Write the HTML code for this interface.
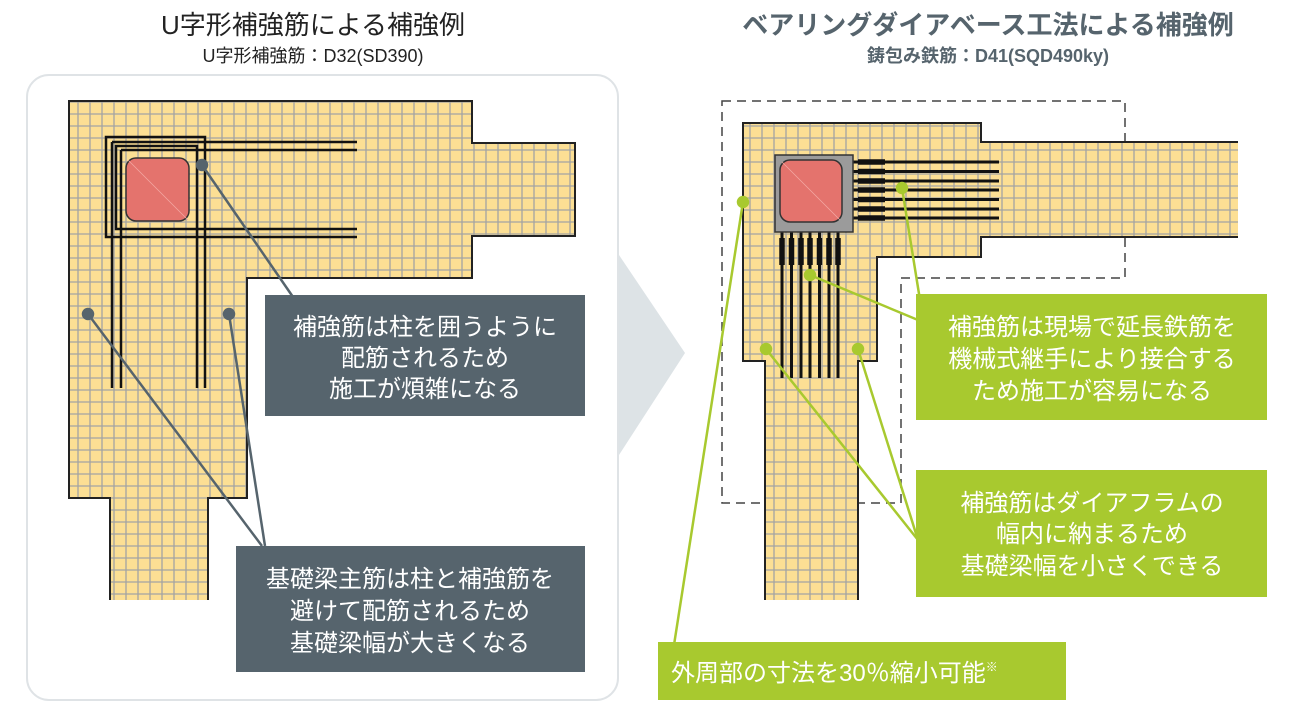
<!DOCTYPE html>
<html><head><meta charset="utf-8"><style>
html,body{margin:0;padding:0;background:#fff;width:1292px;height:712px;overflow:hidden}
svg{display:block}
text{font-family:"Liberation Sans","Noto Sans CJK JP",sans-serif}
</style></head><body>
<svg width="1292" height="712" viewBox="0 0 1292 712" xmlns="http://www.w3.org/2000/svg">
<defs>
<pattern id="g" width="12" height="12" patternUnits="userSpaceOnUse">
<rect width="12" height="12" fill="#fcdf94"/>
<path d="M6 0V12M0 6H12" stroke="#a3a3a3" stroke-width="1.3"/>
</pattern>
</defs>

<!-- titles -->
<text x="313" y="34" font-size="26" text-anchor="middle" fill="#222">U字形補強筋による補強例</text>
<text x="313" y="62" font-size="18" text-anchor="middle" fill="#222">U字形補強筋：D32(SD390)</text>
<text x="988" y="34" font-size="26" font-weight="bold" text-anchor="middle" fill="#56646d">ベアリングダイアベース工法による補強例</text>
<text x="988" y="62" font-size="18" font-weight="bold" text-anchor="middle" fill="#56646d">鋳包み鉄筋：D41(SQD490ky)</text>

<!-- left panel -->
<rect x="27" y="75" width="591" height="625" rx="22" fill="#fff" stroke="#dfe3e6" stroke-width="2"/>
<polygon points="619,255 685,353 619,455" fill="#dde3e6"/>

<!-- left shape -->
<path d="M69 101H472V143H575V236H472V278H247V498H208V607H110V498H69Z" fill="url(#g)" stroke="#222" stroke-width="2"/>
<rect x="109" y="600" width="100" height="10" fill="#fff"/>
<g fill="none" stroke="#111" stroke-width="2.5">
<rect x="106" y="137" width="99" height="100"/>
<rect x="116" y="146" width="81" height="83"/>
<path d="M112 142V388M121 150V388M197 229V388M205 237V388"/>
<path d="M112 142H357M121 150H357M197 229H357M205 237H357"/>
</g>
<rect x="126" y="158" width="63" height="63" rx="10" fill="#e4736d" stroke="#333" stroke-width="1.5"/>
<line x1="128" y1="160" x2="188" y2="220" stroke="#f3aaa5" stroke-width="0.7"/>
<g stroke="#56646d" stroke-width="2.5" fill="#56646d">
<line x1="202" y1="165" x2="293" y2="297"/>
<line x1="88" y1="314" x2="262" y2="546"/>
<line x1="229" y1="314" x2="265" y2="546"/>
<circle cx="202" cy="165" r="5"/><circle cx="88" cy="314" r="5"/><circle cx="229" cy="314" r="5"/>
</g>
<rect x="265" y="295" width="320" height="121" fill="#56646d"/>
<g fill="#fff" font-size="24" text-anchor="middle">
<text x="425" y="335">補強筋は柱を囲うように</text>
<text x="425" y="366">配筋されるため</text>
<text x="425" y="397">施工が煩雑になる</text>
</g>
<rect x="236" y="546" width="349" height="126" fill="#56646d"/>
<g fill="#fff" font-size="24" text-anchor="middle">
<text x="410" y="587">基礎梁主筋は柱と補強筋を</text>
<text x="410" y="619">避けて配筋されるため</text>
<text x="410" y="651">基礎梁幅が大きくなる</text>
</g>

<!-- right: dashed -->
<path d="M722 101H1125V278H901V503H722Z" fill="none" stroke="#444" stroke-width="1.5" stroke-dasharray="9,6"/>
<path d="M743 123H981V142H1240V237H981V257H877V361H858V607H765V361H743Z" fill="url(#g)" stroke="#222" stroke-width="2"/>
<rect x="764" y="600" width="95" height="10" fill="#fff"/>
<rect x="1238" y="140" width="6" height="100" fill="#fff"/>
<g stroke="#111" stroke-width="3">
<path d="M853 162H999M853 171.5H999M853 181H999M853 190H999M853 199.5H999M853 209H999M853 218H999"/>
<path d="M782 232V378M791.5 232V378M801 232V378M810 232V378M819.5 232V378M829 232V378M838 232V378"/>
</g>
<g stroke="#111" stroke-width="5.5">
<path d="M858 162H885M858 171.5H885M858 181H885M858 190H885M858 199.5H885M858 209H885M858 218H885"/>
<path d="M782 238V265M791.5 238V265M801 238V265M810 238V265M819.5 238V265M829 238V265M838 238V265"/>
</g>
<rect x="775" y="155" width="78" height="77" fill="#9b9b9b" stroke="#333" stroke-width="1.5"/>
<rect x="780" y="160" width="62" height="62" rx="10" fill="#e4736d" stroke="#333" stroke-width="1.5"/>
<line x1="782" y1="162" x2="840" y2="220" stroke="#f3aaa5" stroke-width="0.7"/>
<g stroke="#a8c92f" stroke-width="2.5" fill="#a8c92f">
<line x1="902" y1="188" x2="920" y2="300"/>
<line x1="810" y1="275" x2="918" y2="320"/>
<line x1="766" y1="349" x2="918" y2="540"/>
<line x1="858" y1="349" x2="918" y2="540"/>
<line x1="743" y1="202" x2="674" y2="645"/>
<circle cx="902" cy="188" r="5"/><circle cx="810" cy="275" r="5"/><circle cx="766" cy="349" r="5"/><circle cx="858" cy="349" r="5"/><circle cx="743" cy="202" r="5"/>
</g>
<rect x="916" y="294" width="351" height="126" fill="#a8c92f"/>
<g fill="#fff" font-size="24" text-anchor="middle">
<text x="1092" y="335">補強筋は現場で延長鉄筋を</text>
<text x="1092" y="367">機械式継手により接合する</text>
<text x="1092" y="399">ため施工が容易になる</text>
</g>
<rect x="916" y="470" width="351" height="127" fill="#a8c92f"/>
<g fill="#fff" font-size="24" text-anchor="middle">
<text x="1092" y="511">補強筋はダイアフラムの</text>
<text x="1092" y="542">幅内に納まるため</text>
<text x="1092" y="574">基礎梁幅を小さくできる</text>
</g>
<rect x="658" y="642" width="408" height="58" fill="#a8c92f"/>
<text x="671" y="681" fill="#fff" font-size="24">外周部の寸法を30％縮小可能<tspan font-size="12" dy="-10">※</tspan></text>
</svg>
</body></html>
